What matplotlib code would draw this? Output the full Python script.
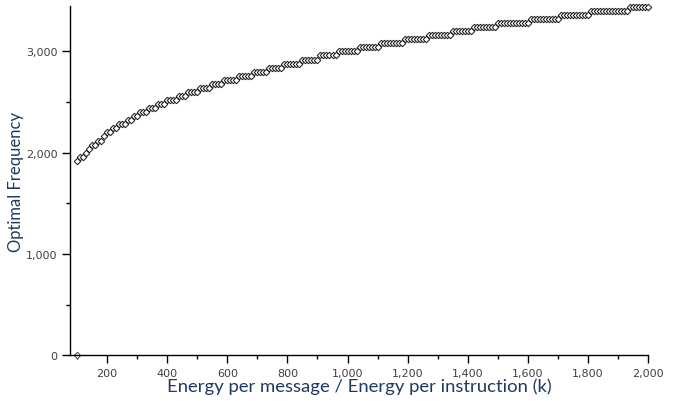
import numpy as np
import matplotlib
matplotlib.use("Agg")
import matplotlib.pyplot as plt
from matplotlib.ticker import MultipleLocator, FuncFormatter

# energy ratio (k), 100 .. 2000 in steps of 10
ratio = np.arange(100, 2001, 10)

# optimal frequency for each ratio
freq = [
    1920, 1960, 1960, 2000, 2040, 2080, 2080, 2120, 2120, 2160,
    2200, 2200, 2240, 2240, 2280, 2280, 2280, 2320, 2320, 2360,
    2360, 2400, 2400, 2400, 2440, 2440, 2440, 2480, 2480, 2480,
    2520, 2520, 2520, 2520, 2560, 2560, 2560,
    2600, 2600, 2600, 2600, 2640, 2640, 2640, 2640, 2680, 2680,
    2680, 2680, 2720, 2720, 2720, 2720, 2720, 2760, 2760, 2760,
    2760, 2760, 2800, 2800, 2800, 2800, 2800, 2840, 2840, 2840,
    2840, 2840,
    2880, 2880, 2880, 2880, 2880, 2880, 2920, 2920, 2920, 2920,
    2920, 2920, 2960, 2960, 2960, 2960, 2960, 2960, 3000, 3000,
    3000, 3000, 3000, 3000, 3000, 3040, 3040, 3040, 3040, 3040,
    3040, 3040, 3080, 3080, 3080, 3080, 3080, 3080, 3080, 3080,
    3120, 3120, 3120, 3120, 3120, 3120, 3120, 3120, 3160, 3160,
    3160, 3160, 3160, 3160, 3160, 3160,
    3200, 3200, 3200, 3200, 3200, 3200, 3200, 3240, 3240, 3240,
    3240, 3240, 3240, 3240, 3240, 3280, 3280, 3280, 3280, 3280,
    3280, 3280, 3280, 3280, 3280, 3280, 3320, 3320, 3320, 3320,
    3320, 3320, 3320, 3320, 3320, 3320, 3360, 3360, 3360, 3360,
    3360, 3360, 3360, 3360, 3360, 3360, 3400, 3400, 3400, 3400,
    3400, 3400, 3400, 3400, 3400, 3400, 3400, 3400, 3400, 3440,
    3440, 3440, 3440, 3440, 3440, 3440,
]

# lone point sitting on the axis
extra_x = [100]
extra_y = [0]

label_color = "#1F3A60"
tick_color = "#404040"

fig = plt.figure(figsize=(6.86, 4.02), dpi=100)
ax = fig.add_axes([0.102, 0.114, 0.843, 0.869])

ax.plot(ratio, freq, linestyle="none", marker="D", markersize=3.3,
        markerfacecolor="white", markeredgecolor="#222222",
        markeredgewidth=0.75, clip_on=False)
ax.plot(extra_x, extra_y, linestyle="none", marker="D", markersize=3.3,
        markerfacecolor="white", markeredgecolor="#555555",
        markeredgewidth=0.75, clip_on=False)

ax.set_xlim(77, 2000)
ax.set_ylim(0, 3450)

ax.xaxis.set_major_locator(MultipleLocator(200))
ax.xaxis.set_minor_locator(MultipleLocator(100))
ax.yaxis.set_major_locator(MultipleLocator(1000))
ax.yaxis.set_minor_locator(MultipleLocator(500))
fmt = FuncFormatter(lambda v, p: f"{int(v):,}")
ax.xaxis.set_major_formatter(fmt)
ax.yaxis.set_major_formatter(fmt)

for s in ["top", "right"]:
    ax.spines[s].set_visible(False)
for s in ["left", "bottom"]:
    ax.spines[s].set_linewidth(1.0)
    ax.spines[s].set_color("black")

ax.tick_params(axis="both", which="major", direction="out", length=6,
               width=1, color="black", labelsize=8, labelcolor=tick_color, pad=3)
ax.tick_params(axis="both", which="minor", direction="out", length=3,
               width=1, color="black")

ax.set_xlabel("Energy per message / Energy per instruction (k)",
              fontsize=13.3, family="Lato", color=label_color, labelpad=0)
ax.set_ylabel("Optimal Frequency", fontsize=12, family="Lato",
              color=label_color, labelpad=1)

fig.savefig("out.png", dpi=100)
